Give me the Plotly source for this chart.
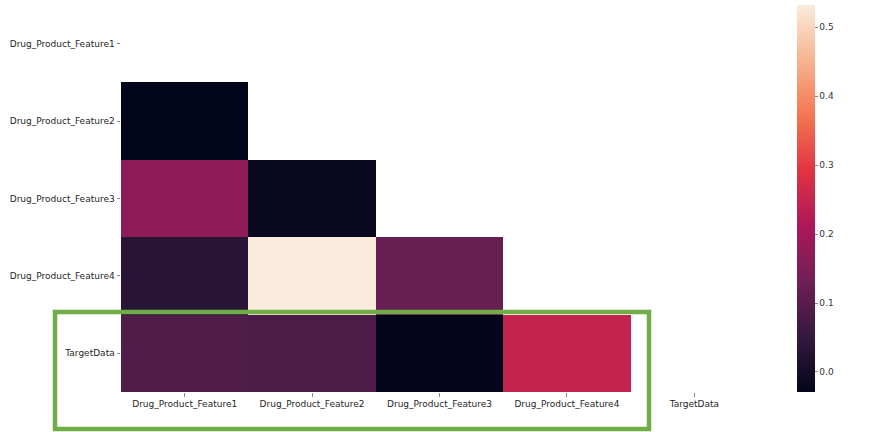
import plotly.graph_objects as go

labels = ["Drug_Product_Feature1", "Drug_Product_Feature2", "Drug_Product_Feature3",
          "Drug_Product_Feature4", "TargetData"]

# lower-triangle correlation values (upper triangle + diagonal masked)
row_f1 = [None, None, None, None, None]
row_f2 = [-0.029, None, None, None, None]
row_f3 = [0.168, -0.018, None, None, None]
row_f4 = [0.030, 0.532, 0.118, None, None]
row_target = [0.088, 0.083, -0.027, 0.245, None]
z = [row_f1, row_f2, row_f3, row_f4, row_target]

cb_ticks = [0.0, 0.1, 0.2, 0.3, 0.4, 0.5]
zmin, zmax = -0.029, 0.532

rocket = [[0.0, "#03051a"], [0.143, "#35193e"], [0.286, "#701f57"], [0.429, "#ad1759"],
          [0.571, "#e13342"], [0.714, "#f37651"], [0.857, "#f6b48f"], [1.0, "#faebdd"]]

W, H = 872, 432
L, R, T, B = 121, 114, 5, 40
pw, ph = W - L - R, H - T - B

font = dict(family="DejaVu Sans", size=9, color="#262626")

fig = go.Figure(go.Heatmap(
    z=z, x=labels, y=labels, zmin=zmin, zmax=zmax, colorscale=rocket,
    hoverongaps=False,
    colorbar=dict(
        thickness=18, len=1.0, lenmode="fraction", x=(797 - L) / pw, xanchor="left",
        y=0.5, yanchor="middle", outlinewidth=0, tickvals=cb_ticks,
        ticktext=[f"{v:.1f}" for v in cb_ticks], ticks="outside", ticklen=3,
        tickcolor="#888888", tickfont=dict(family="DejaVu Sans", size=9, color="#333333"),
        xpad=0, ypad=0,
    ),
))

def px_x(p):
    return (p - L) / pw

def px_y(p):
    return (H - B - p) / ph

fig.add_shape(type="rect", xref="paper", yref="paper",
              x0=px_x(55), x1=px_x(649), y0=px_y(312), y1=px_y(429),
              line=dict(color="#70ad47", width=4.5))

fig.update_xaxes(showgrid=False, zeroline=False, showline=False, ticks="outside",
                 ticklen=3.5, tickcolor="#888888", tickfont=font, tickangle=0)
fig.update_yaxes(showgrid=False, zeroline=False, showline=False, ticks="outside",
                 ticklen=3.5, tickcolor="#888888", tickfont=font, autorange="reversed")

fig.update_layout(width=W, height=H, margin=dict(l=L, r=R, t=T, b=B),
                  paper_bgcolor="white", plot_bgcolor="white", font=font)

fig.write_html("out.html")
